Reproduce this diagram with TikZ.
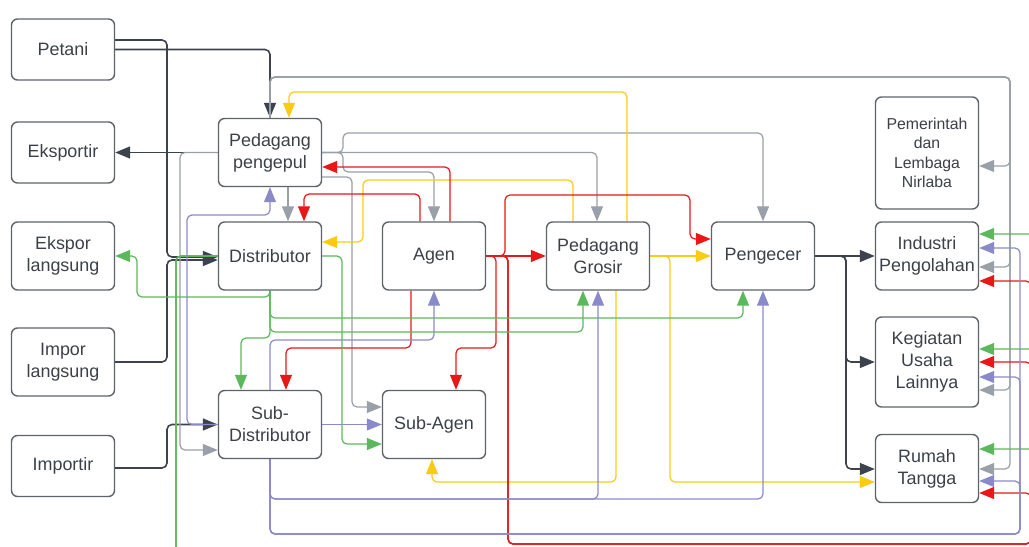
\documentclass[tikz,border=0pt]{standalone}
\usepackage{fontspec}
\setmainfont{Liberation Sans}
\usetikzlibrary{calc, positioning, arrows.meta}
\pgfdeclarelayer{bg}
\pgfsetlayers{bg,main}

\definecolor{cBorder}{HTML}{5E636B}
\definecolor{cText}{HTML}{3B4049}
\definecolor{cDark}{HTML}{3D434D}
\definecolor{cGray}{HTML}{9AA0A8}
\definecolor{cYellow}{HTML}{FACB14}
\definecolor{cRed}{HTML}{E81818}
\definecolor{cGreen}{HTML}{5CB85C}
\definecolor{cBlue}{HTML}{8A8AC8}

\tikzset{
  box/.style={draw=cBorder, line width=0.8pt, rounded corners=0.12cm, fill=white,
    text=cText, align=center, minimum width=2.06cm, minimum height=1.36cm,
    inner sep=1pt, font=\fontsize{10.2}{12.6}\selectfont},
  low/.style={minimum height=1.22cm},
  link/.style={line width=0.7pt, rounded corners=0.1cm},
  tip/.style={-{Triangle[length=0.3cm,width=0.24cm]}},
}

\begin{document}
\begin{tikzpicture}[x=0.02cm, y=-0.02cm]
		\useasboundingbox (0,0) rectangle (1029,547);
		\clip (0,0) rectangle (1029,547);

		% nodes - left column %
		\node[box, low] (petani) at (63,49.5) {Petani};
		\node[box, low] (eksportir) at (63,152.5) {Eksportir};
		\node[box] (ekspor) at (63,256) {Ekspor\\langsung};
		\node[box] (impor) at (63,362) {Impor\\langsung};
		\node[box, low] (importir) at (63,466) {Importir};

		% nodes - traders %
		\node[box] (pengepul) at (270,152.5) {Pedagang\\pengepul};
		\node[box] (distributor) at (270,256) {Distributor};
		\node[box] (subdist) at (270,424.5) {Sub-\\Distributor};
		\node[box] (agen) at (434,256) {Agen};
		\node[box] (subagen) at (434,424.5) {Sub-Agen};
		\node[box] (grosir) at (598,256) {Pedagang\\Grosir};
		\node[box] (pengecer) at (763,256) {Pengecer};

		% nodes - consumers %
		\node[box, minimum height=2.24cm, font=\fontsize{9}{11}\selectfont] (pemerintah) at (927,153) {Pemerintah\\dan\\Lembaga\\Nirlaba};
		\node[box] (industri) at (927,256) {Industri\\Pengolahan};
		\node[box, minimum height=1.8cm] (kegiatan) at (927,362) {Kegiatan\\Usaha\\Lainnya};
		\node[box] (rumah) at (927,468.5) {Rumah\\Tangga};

		\begin{pgfonlayer}{bg}
		% edges - dark %
		\draw[link, cDark, line width=0.9pt, tip] (petani.east) -| (pengepul.north);
		\draw[link, cDark, line width=0.9pt, tip] (petani.east |- 0,40) -| (167,257) -- (distributor.west |- 0,257);
		\draw[link, cDark, line width=0.9pt, tip] (impor.east) -| (167,260) -- (distributor.west |- 0,260);
		\draw[link, cDark, line width=0.9pt, tip] (importir.east |- 0,468) -| (167,424.5) -- (subdist.west);
		\draw[link, cDark, line width=0.9pt, tip] (pengepul.west) -- (eksportir.east);
		\draw[link, cDark, line width=0.9pt, tip] (pengecer.east) -- (industri.west);
		\draw[link, cDark, line width=0.9pt, tip] (pengecer.east) -| (846,362) -- (kegiatan.west);
		\draw[link, cDark, line width=0.9pt, tip] (pengecer.east) -| (846,469) -- (rumah.west |- 0,469);

		% edges - gray %
		\draw[link, cGray, tip] (pengepul.south -| 288,0) -- (distributor.north -| 288,0);
		\draw[link, cGray, tip] (pengepul.west) -| (180,450) -- (subdist.west |- 0,450);
		\draw[link, cGray, tip] (pengepul.east) -| (grosir.north -| 597,0);
		\draw[link, cGray, tip] (pengepul.east) -- (343,152.5) |- (763,133) -- (pengecer.north);
		\draw[link, cGray, tip] (pengepul.east) -- (343,152.5) |- (434,172) -- (agen.north);
		\draw[link, cGray, tip] (pengepul.east |- 0,177) -| (352,407) -- (subagen.west |- 0,407);
		\draw[link, cGray, tip] (pengepul.north) |- (1010,77) |- (pemerintah.east |- 0,166);
		\draw[link, cGray, tip] (pengepul.north) |- (1010,77) |- (industri.east |- 0,267);
		\draw[link, cGray, tip] (pengepul.north) |- (1010,77) |- (kegiatan.east |- 0,390);
		\draw[link, cGray, tip] (pengepul.north) |- (1010,77) |- (rumah.east |- 0,469);

		% edges - yellow %
		\draw[link, cYellow, tip] (grosir.north -| 627,0) |- (289,92) -- (pengepul.north -| 289,0);
		\draw[link, cYellow, tip] (grosir.north -| 573,0) |- (363,180) |- (distributor.east |- 0,242);
		\draw[link, cYellow, tip] (grosir.east) -- (pengecer.west);
		\draw[link, cYellow, tip] (grosir.east) -| (670,482) -- (rumah.west |- 0,482);
		\draw[link, cYellow, tip] (grosir.south -| 616,0) |- (432,482) -- (subagen.south -| 432,0);

		% edges - red %
		\draw[link, cRed, tip] (agen.north -| 450,0) |- (pengepul.east |- 0,167);
		\draw[link, cRed, tip] (agen.north -| 420,0) |- (304,194) -- (distributor.north -| 304,0);
		\draw[link, cRed, tip] (agen.east) -- (grosir.west);
		\draw[link, cRed, tip] (agen.east) -| (505,195) -| (690,239) -- (pengecer.west |- 0,239);
		\draw[link, cRed, tip] (agen.east) -| (496,348) -| (subagen.north -| 456,0);
		\draw[link, cRed, tip] (agen.south -| 411,0) |- (286,348) -- (subdist.north -| 286,0);
		\draw[link, cRed, tip] (agen.east) -| (508,544) -| (1031,281) -- (industri.east |- 0,281);
		\draw[link, cRed, tip] (agen.east) -| (508,544) -| (1031,362) -- (kegiatan.east |- 0,362);
		\draw[link, cRed, tip] (agen.east) -| (508,544) -| (1031,493) -- (rumah.east |- 0,493);

		% edges - green %
		\draw[link, cGreen, tip] (distributor.south) |- (137,297) |- (ekspor.east);
		\draw[link, cGreen, tip] (distributor.south) |- (743,318) -- (pengecer.south -| 743,0);
		\draw[link, cGreen, tip] (distributor.south) |- (583,332) -- (grosir.south -| 583,0);
		\draw[link, cGreen, tip] (distributor.south) |- (241,338) -- (subdist.north -| 241,0);
		\draw[link, cGreen, tip] (distributor.east) -| (342,444) -- (subagen.west |- 0,444);
		\draw[link, cGreen, tip] (distributor.west) -| (176,565) -| (1042,234) -- (industri.east |- 0,234);
		\draw[link, cGreen, tip] (distributor.west) -| (176,565) -| (1042,349) -- (kegiatan.east |- 0,349);
		\draw[link, cGreen, tip] (distributor.west) -| (176,565) -| (1042,449) -- (rumah.east |- 0,449);

		% edges - blue %
		\draw[link, cBlue, tip] (subdist.west) -| (187,215) -| (pengepul.south);
		\draw[link, cBlue, tip] (subdist.east) -- (subagen.west);
		\draw[link, cBlue, tip] (subdist.north) |- (434,340) -- (agen.south);
		\draw[link, cBlue, tip] (subdist.south) |- (598,499) -- (grosir.south);
		\draw[link, cBlue, tip] (subdist.south) |- (763,499) -- (pengecer.south);
		\draw[link, cBlue, tip] (subdist.south) |- (1020,534) |- (industri.east |- 0,248);
		\draw[link, cBlue, tip] (subdist.south) |- (1020,534) |- (kegiatan.east |- 0,377);
		\draw[link, cBlue, tip] (subdist.south) |- (1020,534) |- (rumah.east |- 0,481);
		\end{pgfonlayer}

		\end{tikzpicture}
\end{document}
